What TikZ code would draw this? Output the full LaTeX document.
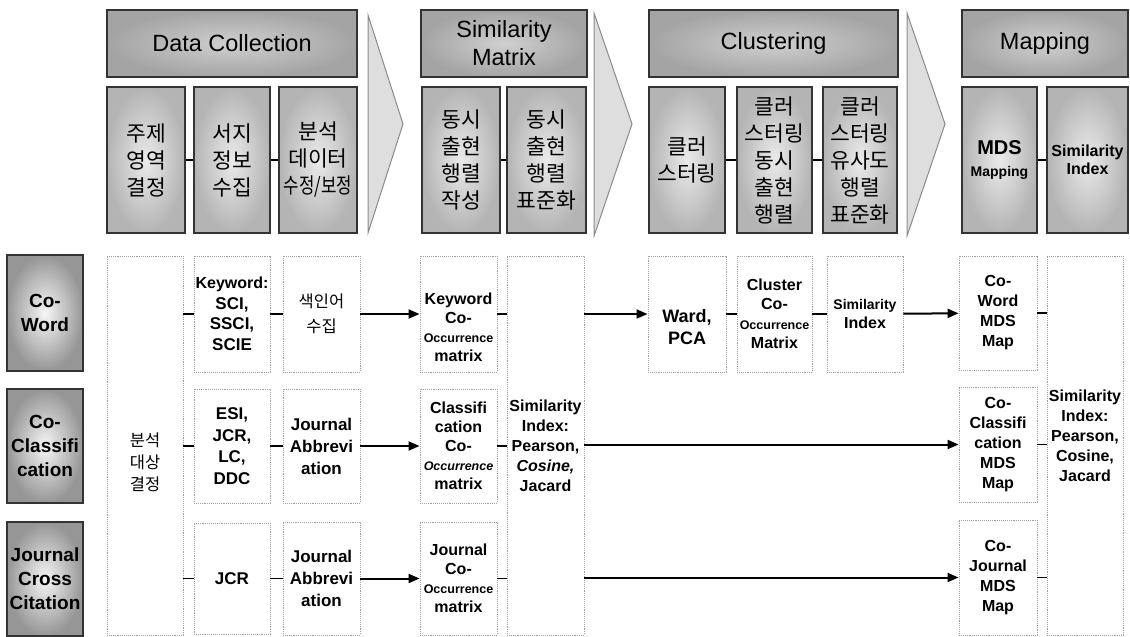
\documentclass[tikz,border=0pt]{standalone}
\usepackage{fontspec}
\setmainfont{Liberation Sans}
\newfontfamily\kr{Noto Sans CJK KR}
\usetikzlibrary{arrows.meta}

\definecolor{edgeline}{HTML}{333333}
\definecolor{hdrin}{HTML}{D0D0D0}
\definecolor{hdrout}{HTML}{A4A4A4}
\definecolor{subin}{HTML}{EAEAEA}
\definecolor{subout}{HTML}{B4B4B4}
\definecolor{catin}{HTML}{F6F6F6}
\definecolor{catout}{HTML}{969696}
\definecolor{dotline}{HTML}{A0A0A0}
\definecolor{chevfill}{HTML}{DEDEDE}
\definecolor{chevline}{HTML}{8A8A8A}

% smaller word used inside the matrix cells
\newcommand{\occword}{{\fontsize{12.5}{15}\selectfont Occurrence}}
\newcommand{\occitword}{{\fontsize{12.5}{15}\selectfont\itshape Occurrence}}

\begin{document}
\begin{tikzpicture}[x=1pt,y=-1pt,
  hdr/.style={draw=edgeline, line width=1.6pt, inner color=hdrin, outer color=hdrout,
    align=center, inner sep=0pt, font=\fontsize{23.5}{28}\selectfont},
  sub/.style={draw=edgeline, line width=1.6pt, inner color=subin, outer color=subout,
    align=center, inner sep=0pt, font=\kr\fontsize{21.5}{27}\selectfont},
  cat/.style={draw=edgeline, line width=1.6pt, inner color=catin, outer color=catout,
    align=center, inner sep=0pt, minimum width=76pt,
    font=\bfseries\fontsize{19}{24}\selectfont},
  cell/.style={draw=dotline, densely dotted, line width=0.9pt, fill=white,
    align=center, inner sep=0pt, font=\bfseries\fontsize{16}{20.5}\selectfont},
  krcell/.style={cell, font=\kr\fontsize{16.5}{23}\selectfont},
  chev/.style={draw=chevline, line width=1pt, fill=chevfill, line join=miter},
  link/.style={line width=1.3pt},
  flow/.style={line width=2pt, -{Triangle[length=11pt,width=9pt]}},
]
\path[use as bounding box] (0,0) rectangle (1130,637);

% ---------- stage headers ----------
\node[hdr, minimum width=250pt, minimum height=67pt] (dc) at (232,43.5) {Data Collection};
\node[hdr, minimum width=166pt, minimum height=67pt] (sm) at (504,43.5) {Similarity\\Matrix};
\node[hdr, minimum width=249pt, minimum height=67pt] (cl) at (773.5,43.5) {Clustering};
\node[hdr, minimum width=166pt, minimum height=67pt] (mp) at (1045,43.5) {Mapping};

% ---------- stage steps ----------
\node[sub, minimum width=78pt, minimum height=146pt] (s1) at (146,160) {주제\\영역\\결정};
\node[sub, minimum width=76pt, minimum height=146pt] (s2) at (232,160) {서지\\정보\\수집};
\node[sub, minimum width=78pt, minimum height=146pt] (s3) at (318,160) {분석\\데이터\\\scalebox{0.78}[1]{수정/보정}};
\node[sub, minimum width=78pt, minimum height=146pt] (s4) at (461,160) {동시\\출현\\행렬\\작성};
\node[sub, minimum width=79pt, minimum height=146pt] (s5) at (546.5,160) {동시\\출현\\행렬\\표준화};
\node[sub, minimum width=76pt, minimum height=146pt] (s6) at (687,160) {클러\\스터링};
\node[sub, minimum width=75pt, minimum height=146pt] (s7) at (774.5,160) {클러\\스터링\\동시\\출현\\행렬};
\node[sub, minimum width=74pt, minimum height=146pt] (s8) at (860,160) {클러\\스터링\\유사도\\행렬\\표준화};
\node[sub, minimum width=75pt, minimum height=146pt, font=\bfseries\fontsize{20}{22}\selectfont] (s9) at (999.5,160)
  {MDS\\{\fontsize{14}{16}\selectfont Mapping}};
\node[sub, minimum width=81pt, minimum height=146pt, font=\bfseries\fontsize{16}{17.5}\selectfont] (s10) at (1087.5,160)
  {Similarity\\Index};

\draw[link] (s1) -- (s2);
\draw[link] (s2) -- (s3);
\draw[link] (s4) -- (s5);
\draw[link] (s6) -- (s7);
\draw[link] (s7) -- (s8);
\draw[link] (s9) -- (s10);

% ---------- chevrons between stages ----------
\draw[chev] (368,15) -- (403,124) -- (368,233) -- cycle;
\draw[chev] (594,13) -- (632,124) -- (594,236) -- cycle;
\draw[chev] (907,13) -- (945,124) -- (907,236) -- cycle;

% ---------- analysis types ----------
\node[cat, minimum height=116pt] (k1) at (45,313) {Co-\\Word};
\node[cat, minimum height=114pt] (k2) at (45,446) {Co-\\Classifi\\cation};
\node[cat, minimum height=114pt] (k3) at (45,579) {Journal\\Cross\\Citation};

% ---------- data collection cells ----------
\node[krcell, minimum width=76pt, minimum height=379pt,
  label={[align=center, font=\kr\fontsize{16.5}{22}\selectfont, yshift=-17pt]center:분석\\대상\\결정}]
  (ta) at (145,445.5) {};

\node[cell, minimum width=76pt, minimum height=116pt] (c2a) at (232,314)
  {Keyword:\\{\fontsize{17}{20.5}\selectfont SCI,}\\{\fontsize{17}{20.5}\selectfont SSCI,}\\{\fontsize{17}{20.5}\selectfont SCIE}};
\node[cell, minimum width=76pt, minimum height=114pt, font=\bfseries\fontsize{17}{21.5}\selectfont] (c2b) at (232,446)
  {ESI,\\JCR,\\LC,\\DDC};
\node[cell, minimum width=76pt, minimum height=111pt, font=\bfseries\fontsize{17}{21}\selectfont] (c2c) at (232,578.5) {JCR};

\node[krcell, minimum width=77pt, minimum height=116pt, font=\kr\fontsize{16.5}{25}\selectfont] (c3a) at (321.5,314) {색인어\\수집};
\node[cell, minimum width=77pt, minimum height=114pt, font=\bfseries\fontsize{17}{22}\selectfont] (c3b) at (321.5,446)
  {Journal\\Abbrevi\\ation};
\node[cell, minimum width=77pt, minimum height=113pt, font=\bfseries\fontsize{17}{22}\selectfont] (c3c) at (321.5,578.5)
  {Journal\\Abbrevi\\ation};

% ---------- similarity matrix cells ----------
\node[cell, minimum width=77pt, minimum height=116pt,
  label={[align=center, font=\bfseries\fontsize{16}{19}\selectfont, yshift=-13pt]center:Keyword\\Co-\\\occword\\matrix}]
  (c4a) at (458.5,314) {};
\node[cell, minimum width=77pt, minimum height=114pt, font=\bfseries\fontsize{16}{19}\selectfont] (c4b) at (458.5,446)
  {Classifi\\cation\\Co-\\\occitword\\matrix};
\node[cell, minimum width=77pt, minimum height=113pt, font=\bfseries\fontsize{16}{19}\selectfont] (c4c) at (458.5,578.5)
  {Journal\\Co-\\\occword\\matrix};

\node[cell, minimum width=77pt, minimum height=379pt, font=\bfseries\fontsize{16}{20}\selectfont] (tb) at (545.5,445.5)
  {Similarity\\Index:\\Pearson,\\{\itshape Cosine,}\\Jacard};

% ---------- clustering cells ----------
\node[cell, minimum width=78pt, minimum height=116pt,
  label={[align=center, font=\bfseries\fontsize{18}{22}\selectfont, yshift=-13pt]center:Ward,\\PCA}]
  (wd) at (687,314) {};
\node[cell, minimum width=75pt, minimum height=116pt, font=\bfseries\fontsize{16}{19.5}\selectfont] (cm) at (774.5,314)
  {Cluster\\Co-\\\occword\\Matrix};
\node[cell, minimum width=76pt, minimum height=116pt, font=\bfseries\fontsize{16}{18.5}\selectfont] (si) at (865,314)
  {{\fontsize{14}{18.5}\selectfont Similarity}\\Index};

% ---------- mapping cells ----------
\node[cell, minimum width=78pt, minimum height=114pt, font=\bfseries\fontsize{16}{20}\selectfont] (md1) at (998,313)
  {Co-\\Word\\MDS\\Map};
\node[cell, minimum width=78pt, minimum height=115pt, font=\bfseries\fontsize{16}{20}\selectfont] (md2) at (998,444.5)
  {Co-\\Classifi\\cation\\MDS\\Map};
\node[cell, minimum width=78pt, minimum height=115pt, font=\bfseries\fontsize{16}{20}\selectfont] (md3) at (998,577.5)
  {Co-\\Journal\\MDS\\Map};

\node[cell, minimum width=76pt, minimum height=379pt,
  label={[align=center, font=\bfseries\fontsize{16}{20}\selectfont, yshift=10pt]center:Similarity\\Index:\\Pearson,\\Cosine,\\Jacard}]
  (tc) at (1085,445.5) {};

% ---------- connectors ----------
\draw[link] (ta.east |- c2a.west) -- (c2a.west);
\draw[link] (ta.east |- c2b.west) -- (c2b.west);
\draw[link] (ta.east |- c2c.west) -- (c2c.west);

\draw[link] (c2a) -- (c3a);
\draw[link] (c2b) -- (c3b);
\draw[link] (c2c) -- (c3c);

\draw[flow] (c3a) -- (c4a);
\draw[flow] (c3b) -- (c4b);
\draw[flow] (c3c) -- (c4c);

\draw[link] (c4a.east) -- (tb.west |- c4a.east);
\draw[link] (c4b.east) -- (tb.west |- c4b.east);
\draw[link] (c4c.east) -- (tb.west |- c4c.east);

\draw[flow] (tb.east |- wd.west) -- (wd.west);
\draw[link] (wd) -- (cm);
\draw[link] (cm) -- (si);
\draw[flow] (si) -- (md1);

\draw[flow] (tb.east |- md2.west) -- (md2.west);
\draw[flow] (tb.east |- md3.west) -- (md3.west);

\draw[link] (md1.east) -- (tc.west |- md1.east);
\draw[link] (md2.east) -- (tc.west |- md2.east);
\draw[link] (md3.east) -- (tc.west |- md3.east);
\end{tikzpicture}
\end{document}
